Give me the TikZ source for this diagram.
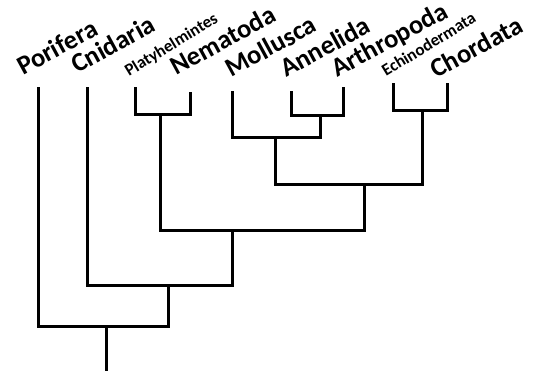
\documentclass[tikz,border=0pt]{standalone}
\usepackage{fontspec}
\setmainfont{Carlito}
\begin{document}
\begin{tikzpicture}[x=1pt,y=-1pt,
  branch/.style={line width=3pt,line cap=rect,line join=miter,draw=black},
  biglab/.style={anchor=base west,rotate=28.5,inner sep=0pt,font=\fontsize{26.5}{26.5}\selectfont\bfseries},
  smalllab/.style={anchor=base west,rotate=31.5,inner sep=0pt,font=\fontsize{17}{17}\selectfont\bfseries}]
\useasboundingbox (0,0) rectangle (533,370);
% leaf tips
\coordinate (por) at (38,88);
\coordinate (cni) at (87,88);
\coordinate (pla) at (135,88);
\coordinate (nem) at (190,93);
\coordinate (mol) at (232,92);
\coordinate (ann) at (291,92);
\coordinate (art) at (343,88);
\coordinate (ech) at (393,84);
\coordinate (cho) at (447,84);
% internal nodes
\coordinate (pn) at (160,114);
\coordinate (aa) at (320,115);
\coordinate (ec) at (422,110);
\coordinate (maa) at (275,137);
\coordinate (mae) at (364,184);
\coordinate (pnm) at (232,230);
\coordinate (cx) at (168,285);
\coordinate (root) at (106,326);
\coordinate (base) at (106,370);
% labels
\node[biglab] (lpor) at (23,76) {Porifera};
\node[biglab] (lcni) at (77,74) {Cnidaria};
\node[smalllab] (lpla) at (129,77) {Platyhelmintes};
\node[biglab] (lnem) at (176,76) {Nematoda};
\node[biglab] (lmol) at (231,78) {Mollusca};
\node[biglab] (lann) at (286,78) {Annelida};
\node[biglab] (lart) at (337,78) {Arthropoda};
\node[smalllab] (lech) at (386,77) {Echinodermata};
\node[biglab] (lcho) at (436,79) {Chordata};
% branches
\draw[branch] (pn) -| (pla);
\draw[branch] (pn) -| (nem);
\draw[branch] (aa) -| (ann);
\draw[branch] (aa) -| (art);
\draw[branch] (ec) -| (ech);
\draw[branch] (ec) -| (cho);
\draw[branch] (maa) -| (mol);
\draw[branch] (maa) -| (aa);
\draw[branch] (mae) -| (maa);
\draw[branch] (mae) -| (ec);
\draw[branch] (pnm) -| (pn);
\draw[branch] (pnm) -| (mae);
\draw[branch] (cx) -| (cni);
\draw[branch] (cx) -| (pnm);
\draw[branch] (root) -| (por);
\draw[branch] (root) -| (cx);
\draw[branch] (base) -- (root);
\end{tikzpicture}
\end{document}
